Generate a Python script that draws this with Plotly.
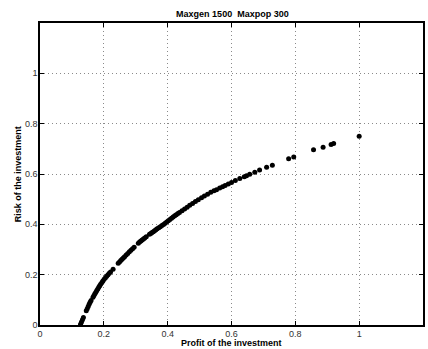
import plotly.graph_objects as go

profit = [0.127, 0.130, 0.133, 0.136,
          0.145, 0.148, 0.151, 0.154, 0.157, 0.160,
          0.166, 0.169, 0.172, 0.175, 0.178, 0.181, 0.184, 0.187, 0.190, 0.194, 0.197,
          0.201, 0.205, 0.209, 0.213, 0.217, 0.221,
          0.229,
          0.245, 0.249, 0.253, 0.257, 0.261, 0.265, 0.270, 0.275, 0.280, 0.285, 0.290, 0.295,
          0.308, 0.312, 0.316, 0.320, 0.324, 0.328, 0.333,
          0.343, 0.347, 0.351, 0.355, 0.359, 0.363, 0.367, 0.372, 0.377, 0.382, 0.387,
          0.392, 0.397, 0.402, 0.407, 0.412, 0.417, 0.422, 0.427, 0.432, 0.437,
          0.445, 0.453, 0.461, 0.469, 0.478, 0.487, 0.496, 0.506, 0.515, 0.525,
          0.535, 0.545, 0.553, 0.563, 0.572, 0.580, 0.590, 0.600, 0.612, 0.626,
          0.640, 0.647, 0.657, 0.673, 0.688, 0.710, 0.728, 0.779, 0.795, 0.857,
          0.887, 0.912, 0.920, 1.000]
risk = [0.003, 0.012, 0.021, 0.030,
        0.057, 0.065, 0.074, 0.082, 0.090, 0.097,
        0.110, 0.117, 0.124, 0.130, 0.137, 0.143, 0.150, 0.156, 0.162, 0.169, 0.175,
        0.182, 0.188, 0.194, 0.200, 0.206, 0.211,
        0.222,
        0.245, 0.250, 0.256, 0.261, 0.266, 0.271, 0.278, 0.284, 0.291, 0.297, 0.303, 0.309,
        0.325, 0.330, 0.334, 0.338, 0.342, 0.346, 0.351,
        0.361, 0.364, 0.368, 0.371, 0.375, 0.378, 0.382, 0.386, 0.390, 0.395, 0.399,
        0.404, 0.409, 0.414, 0.419, 0.424, 0.429, 0.434, 0.438, 0.443, 0.447,
        0.454, 0.461, 0.468, 0.476, 0.483, 0.491, 0.498, 0.506, 0.513, 0.520,
        0.527, 0.533, 0.537, 0.544, 0.549, 0.554, 0.560, 0.566, 0.574, 0.582,
        0.589, 0.593, 0.599, 0.607, 0.616, 0.627, 0.635, 0.661, 0.668, 0.696,
        0.706, 0.717, 0.721, 0.750]

x_ticks = [0, 0.2, 0.4, 0.6, 0.8, 1, 1.2]
x_ticklabels = ["0", "0.2", "0.4", "0.6", "0.8", "1", "1.2"]
y_ticks = [0, 0.2, 0.4, 0.6, 0.8, 1]
y_ticklabels = ["0", "0.2", "0.4", "0.6", "0.8", "1"]

font_family = "Liberation Sans, Arial, sans-serif"

fig = go.Figure()
fig.add_trace(go.Scatter(
    x=profit, y=risk, mode="markers",
    marker=dict(symbol="circle", size=5, color="black"),
    showlegend=False, cliponaxis=False,
))

axis_common = dict(
    showline=True, linecolor="black", linewidth=1.5, mirror="ticks",
    ticks="inside", ticklen=4, tickwidth=1, tickcolor="black",
    showgrid=True, gridcolor="#8a8a8a", griddash="1px,3px", gridwidth=1,
    zeroline=False, automargin=False,
    tickfont=dict(family=font_family, size=9, color="#333333"),
)

fig.update_layout(
    width=428, height=349,
    margin=dict(l=40, r=5, t=23, b=24, autoexpand=False),
    paper_bgcolor="white", plot_bgcolor="white",
    title=dict(text="<b>Maxgen 1500  Maxpop 300</b>", x=0.543, xanchor="center",
               y=335.5 / 349, yanchor="middle", yref="container", automargin=False,
               font=dict(family=font_family, size=9, color="black")),
    xaxis=dict(range=[0, 1.2], tickvals=x_ticks, ticktext=x_ticklabels,
               ticklabelstandoff=-1, **axis_common),
    yaxis=dict(range=[0, 1.2], tickvals=y_ticks, ticktext=y_ticklabels,
               ticklabelstandoff=-1, **axis_common),
    annotations=[
        dict(text="<b>Profit of the investment</b>", xref="paper", yref="paper",
             x=0.5, y=-0.058, xanchor="center", yanchor="middle", showarrow=False,
             font=dict(family=font_family, size=9, color="black")),
        dict(text="<b>Risk of the investment</b>", xref="paper", yref="paper",
             x=-0.057, y=0.5, xanchor="center", yanchor="middle", showarrow=False,
             textangle=-90,
             font=dict(family=font_family, size=9, color="black")),
    ],
)

fig.write_html("out.html", config={"displayModeBar": False},
               post_script="document.body.style.margin='0';document.body.style.overflow='hidden';")
